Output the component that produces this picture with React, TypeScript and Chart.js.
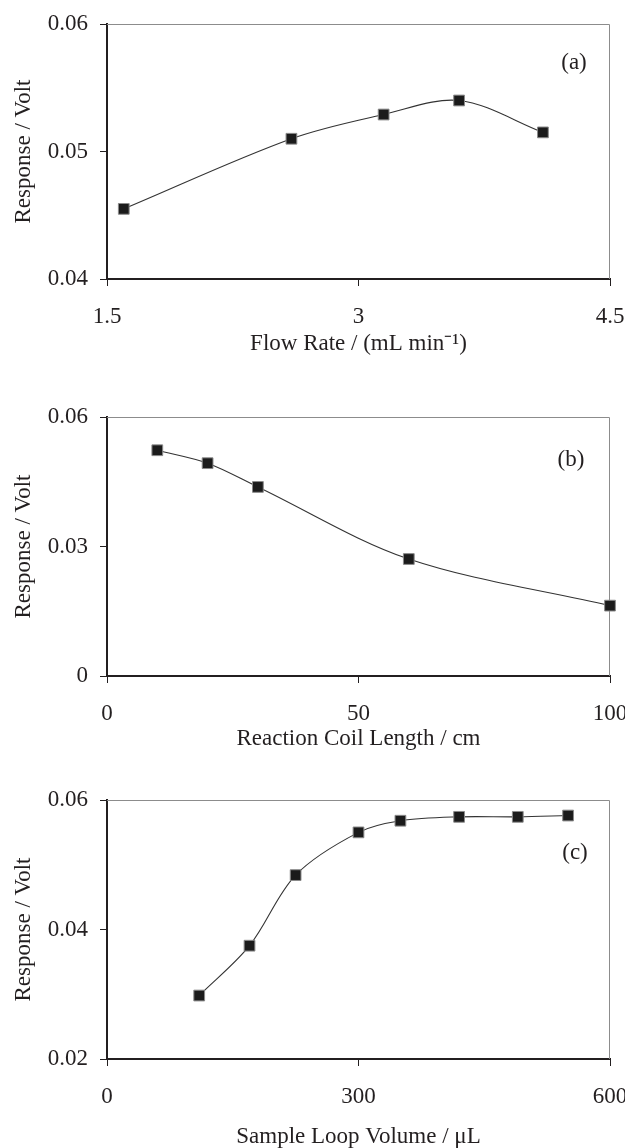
import React, { useEffect, useRef } from "react";
import { Chart, registerables } from "chart.js";

Chart.register(...registerables);

const FONT = '"Liberation Serif", "Times New Roman", serif';
const INK = "#231f20";

// Panel (a)
const flowRate = [1.6, 2.6, 3.15, 3.6, 4.1];
const responseA = [0.0455, 0.051, 0.0529, 0.054, 0.0515];
const flowTicks = [1.5, 3, 4.5];
const respTicksA = [0.04, 0.05, 0.06];

// Panel (b)
const coilLength = [10, 20, 30, 60, 100];
const responseB = [0.0523, 0.0493, 0.0438, 0.0271, 0.0163];
const coilTicks = [0, 50, 100];
const respTicksB = [0, 0.03, 0.06];

// Panel (c)
const loopVolume = [110, 170, 225, 300, 350, 420, 490, 550];
const responseC = [0.0298, 0.0375, 0.0484, 0.055, 0.0568, 0.0574, 0.0574, 0.0576];
const loopTicks = [0, 300, 600];
const respTicksC = [0.02, 0.04, 0.06];

type PanelDef = {
  xs: number[];
  ys: number[];
  xTicks: number[];
  yTicks: number[];
  xTitle: string;
  tag: string;
  height: number;
  padTop: number;
  plotBottom: number;
  titlePadBottom: number;
  tagDx: number;
  tagDy: number;
};

const panels: PanelDef[] = [
  {
    xs: flowRate, ys: responseA, xTicks: flowTicks, yTicks: respTicksA,
    xTitle: "Flow Rate / (mL min\u207B\u00B9)", tag: "(a)",
    height: 380, padTop: 24, plotBottom: 279, titlePadBottom: 25, tagDx: 36, tagDy: 39,
  },
  {
    xs: coilLength, ys: responseB, xTicks: coilTicks, yTicks: respTicksB,
    xTitle: "Reaction Coil Length / cm", tag: "(b)",
    height: 380, padTop: 37, plotBottom: 296, titlePadBottom: 10, tagDx: 39, tagDy: 43,
  },
  {
    xs: loopVolume, ys: responseC, xTicks: loopTicks, yTicks: respTicksC,
    xTitle: "Sample Loop Volume / \u03BCL", tag: "(c)",
    height: 388, padTop: 40, plotBottom: 299, titlePadBottom: 0, tagDx: 35, tagDy: 53,
  },
];

const framePlugin = {
  id: "frame",
  beforeDatasetsDraw(chart: any, _args: any, opts: any) {
    const { ctx, chartArea } = chart;
    const { left, right, top, bottom } = chartArea;
    ctx.save();
    ctx.strokeStyle = "#8c8c8c";
    ctx.lineWidth = 1;
    ctx.beginPath();
    ctx.moveTo(left, top + 0.5);
    ctx.lineTo(right - 0.5, top + 0.5);
    ctx.lineTo(right - 0.5, bottom);
    ctx.stroke();
    ctx.font = `23px ${FONT}`;
    ctx.fillStyle = INK;
    ctx.textAlign = "center";
    ctx.textBaseline = "middle";
    ctx.fillText(opts.tag, right - opts.dx, top + opts.dy);
    ctx.restore();
  },
};

function Panel({ def }: { def: PanelDef }) {
  const ref = useRef<HTMLCanvasElement | null>(null);
  useEffect(() => {
    if (!ref.current) return;
    const xMin = def.xTicks[0];
    const xMax = def.xTicks[def.xTicks.length - 1];
    const yMin = def.yTicks[0];
    const yMax = def.yTicks[def.yTicks.length - 1];
    const chart = new Chart(ref.current, {
      type: "scatter",
      data: {
        datasets: [
          {
            data: def.xs.map((x, i) => ({ x, y: def.ys[i] })),
            showLine: true,
            clip: false,
            borderColor: "#333333",
            borderWidth: 1.1,
            tension: 0.33,
            pointStyle: "rect",
            pointRadius: 7.6,
            pointHoverRadius: 7.6,
            pointBackgroundColor: "#1b1b1b",
            pointBorderColor: "#8a8a8a",
            pointBorderWidth: 1,
          } as any,
        ],
      },
      options: {
        animation: false,
        responsive: false,
        devicePixelRatio: 1,
        layout: { padding: { left: 0, right: 15, top: def.padTop, bottom: 0 } },
        plugins: {
          legend: { display: false },
          tooltip: { enabled: false },
          frame: { tag: def.tag, dx: def.tagDx, dy: def.tagDy },
        } as any,
        scales: {
          x: {
            type: "linear",
            min: xMin,
            max: xMax,
            afterBuildTicks: (s: any) => {
              s.ticks = def.xTicks.map((v) => ({ value: v }));
            },
            afterFit: (s: any) => {
              s.height = def.height - def.plotBottom;
              s.paddingLeft = 0;
              s.paddingRight = 0;
            },
            ticks: {
              callback: (v: any) => String(v),
              font: { family: FONT, size: 23 },
              color: INK,
              padding: 17,
              maxRotation: 0,
              autoSkip: false,
            },
            grid: { drawOnChartArea: false, drawTicks: true, tickLength: 7, color: INK, lineWidth: 1 },
            border: { display: true, color: INK, width: 2 },
            title: {
              display: true,
              text: def.xTitle,
              color: INK,
              font: { family: FONT, size: 23, lineHeight: 1 },
              padding: { top: 0, bottom: def.titlePadBottom },
            },
          },
          y: {
            type: "linear",
            min: yMin,
            max: yMax,
            afterBuildTicks: (s: any) => {
              s.ticks = def.yTicks.map((v) => ({ value: v }));
            },
            afterFit: (s: any) => {
              s.width = 107;
              s.paddingTop = 0;
              s.paddingBottom = 0;
            },
            ticks: {
              callback: (v: any) => String(v),
              font: { family: FONT, size: 23 },
              color: INK,
              padding: 12,
              autoSkip: false,
            },
            grid: { drawOnChartArea: false, drawTicks: true, tickLength: 7, color: INK, lineWidth: 1 },
            border: { display: true, color: INK, width: 2 },
            title: {
              display: true,
              text: "Response / Volt",
              color: INK,
              font: { family: FONT, size: 23, lineHeight: 1 },
              padding: { top: 12, bottom: 0 },
            },
          },
        },
      } as any,
      plugins: [framePlugin as any],
    });
    return () => chart.destroy();
  }, [def]);
  return (
    <canvas
      ref={ref}
      width={625}
      height={def.height}
      style={{ display: "block", width: 625, height: def.height }}
    />
  );
}

export default function App() {
  return (
    <div style={{ position: "absolute", left: 0, top: 0, width: 625, height: 1148, background: "#fff" }}>
      {panels.map((p) => (
        <Panel key={p.tag} def={p} />
      ))}
    </div>
  );
}
